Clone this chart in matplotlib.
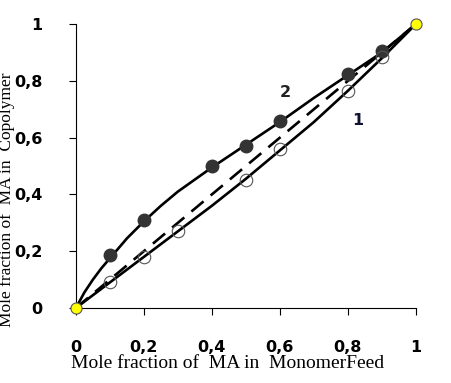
import matplotlib.pyplot as plt

# curve 2 (filled points)
feed_2 = [0.1, 0.2, 0.4, 0.5, 0.6, 0.8, 0.9]
copo_2 = [0.185, 0.31, 0.5, 0.57, 0.66, 0.825, 0.905]
# curve 1 (open points)
feed_1 = [0.1, 0.2, 0.3, 0.5, 0.6, 0.8, 0.9]
copo_1 = [0.09, 0.18, 0.27, 0.45, 0.56, 0.765, 0.885]
# end points (pure monomers)
ends = [0, 1]

# fitted curves
fit_x2 = [0, 0.025, 0.05, 0.075, 0.1, 0.15, 0.2, 0.25, 0.3, 0.4, 0.5, 0.6, 0.7, 0.8, 0.9, 1]
fit_y2 = [0, 0.055, 0.10, 0.14, 0.175, 0.245, 0.305, 0.36, 0.41, 0.495, 0.575, 0.655, 0.74, 0.82, 0.9, 1]
fit_x1 = [0, 0.1, 0.2, 0.3, 0.4, 0.5, 0.6, 0.7, 0.8, 0.9, 1]
fit_y1 = [0, 0.09, 0.18, 0.27, 0.36, 0.455, 0.555, 0.655, 0.765, 0.88, 1]
diag = [0, 1]

ticks = [0, 0.2, 0.4, 0.6, 0.8, 1]
tick_labels = ['0', '0,2', '0,4', '0,6', '0,8', '1']

fig = plt.figure(figsize=(4.52, 3.83), dpi=100)
ax = fig.add_axes([0.168, 0.196, 0.752, 0.741])

ax.plot(diag, diag, color='black', lw=1.9, dashes=(6, 3.5))
ax.plot(fit_x1, fit_y1, color='black', lw=1.9)
ax.plot(fit_x2, fit_y2, color='black', lw=1.9)

ax.plot(feed_2, copo_2, 'o', ms=9, color='#333333', zorder=3)
ax.plot(feed_1, copo_1, 'o', ms=9, mfc='none', mec='#555555', mew=0.8, zorder=3)
ax.plot(ends, ends, 'o', ms=8, mfc='yellow', mec='#555555', mew=0.8, zorder=4, clip_on=False)

ax.set_xlim(0, 1)
ax.set_ylim(0, 1)
ax.set_xticks(ticks)
ax.set_yticks(ticks)
ax.set_xticklabels(tick_labels, fontsize=11.5, fontweight='bold')
ax.set_yticklabels(tick_labels, fontsize=11.5, fontweight='bold')
ax.tick_params(axis='x', direction='out', length=5, pad=18)
ax.tick_params(axis='y', direction='out', length=5, pad=19)
ax.spines['top'].set_visible(False)
ax.spines['right'].set_visible(False)

ax.set_xlabel('Mole fraction of  MA in  MonomerFeed', fontsize=14,
              family='Liberation Serif')
ax.xaxis.set_label_coords(0.447, -0.165)
ax.set_ylabel('Mole fraction of  MA in  Copolymer', fontsize=12.5,
              family='Liberation Serif')
ax.yaxis.set_label_coords(-0.18, 0.38)

ax.text(0.615, 0.76, '2', fontsize=11.5, fontweight='bold',
        color='#222222', ha='center', va='center')
ax.text(0.83, 0.66, '1', fontsize=11.5, fontweight='bold',
        color='#111133', ha='center', va='center')

fig.savefig('out.png')
